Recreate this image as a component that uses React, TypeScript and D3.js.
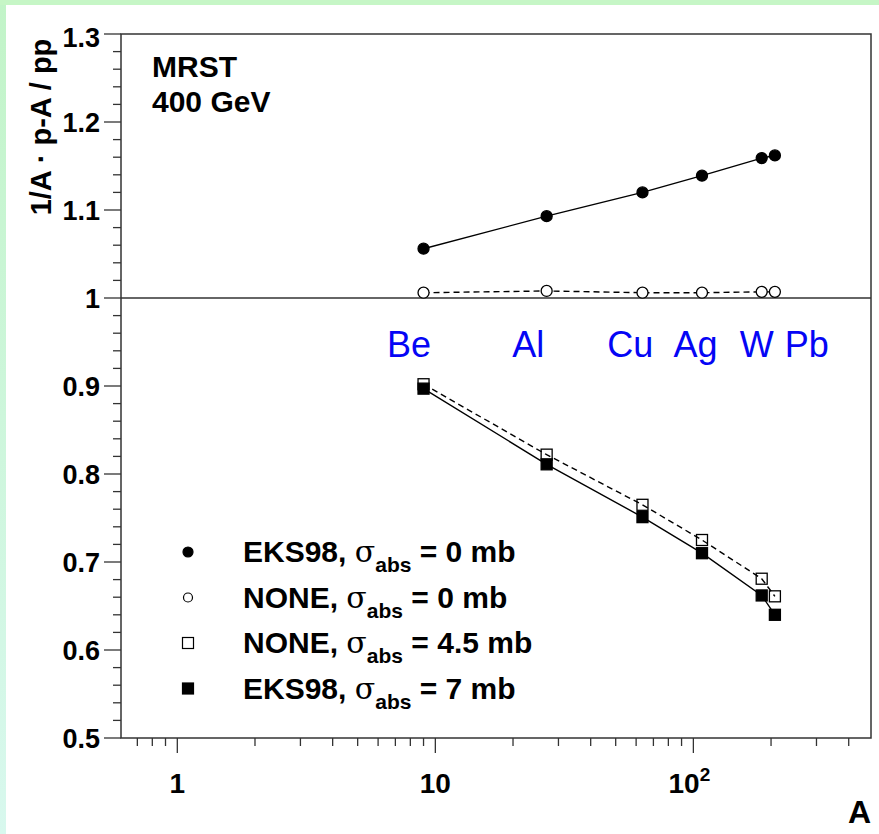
import React, { useEffect, useRef } from "react";
import * as d3 from "d3";

const elements = ["Be", "Al", "Cu", "Ag", "W", "Pb"];
const massNumbers = [9, 27, 63.5, 108, 184, 207];
// where the element names sit along A (label centres)
const elementLabelA = [7.9, 22.9, 57, 102, 176, 275];

const eks98Zero = [1.056, 1.093, 1.12, 1.139, 1.159, 1.162];
const noneZero = [1.006, 1.008, 1.006, 1.006, 1.007, 1.007];
const noneFourHalf = [0.902, 0.822, 0.765, 0.725, 0.681, 0.661];
const eks98Seven = [0.897, 0.811, 0.751, 0.71, 0.662, 0.64];

const yTicks = [0.5, 0.6, 0.7, 0.8, 0.9, 1, 1.1, 1.2, 1.3];
const xTicks = [1, 10, 100];

const legendRows = [
  { name: "EKS98", sigma: "0", shape: "dot", fill: true },
  { name: "NONE", sigma: "0", shape: "dot", fill: false },
  { name: "NONE", sigma: "4.5", shape: "square", fill: false },
  { name: "EKS98", sigma: "7", shape: "square", fill: true },
];

const FONT = "'Liberation Sans', Arial, Helvetica, sans-serif";

const RatioChart = () => {
  const svgRef = useRef<SVGSVGElement>(null);

  useEffect(() => {
    document.body.style.margin = "0";
    const W = 879;
    const H = 834;
    const margin = { top: 34, right: 8, bottom: 96, left: 121 };
    const width = W - margin.left - margin.right;
    const height = H - margin.top - margin.bottom;

    const root = d3.select(svgRef.current).attr("width", W).attr("height", H);
    root.selectAll("*").remove();

    // frame background
    const defs = root.append("defs");
    const grad = defs
      .append("linearGradient")
      .attr("id", "side")
      .attr("x1", 0)
      .attr("y1", 0)
      .attr("x2", 0)
      .attr("y2", 1);
    grad.append("stop").attr("offset", "0%").attr("stop-color", "#c2f4c8");
    grad.append("stop").attr("offset", "100%").attr("stop-color", "#d8f8ee");
    root.append("rect").attr("width", W).attr("height", H).attr("fill", "#ffffff");
    root.append("rect").attr("width", 6).attr("height", H).attr("fill", "url(#side)");
    root.append("rect").attr("width", W).attr("height", 5).attr("fill", "#c6f6c6");

    const svg = root
      .append("g")
      .attr("transform", `translate(${margin.left},${margin.top})`);

    const x = d3.scaleLog().domain([0.605, 488]).range([0, width]);
    const y = d3.scaleLinear().domain([0.5, 1.3]).range([height, 0]);

    // frame
    svg
      .append("rect")
      .attr("width", width)
      .attr("height", height)
      .attr("fill", "none")
      .attr("stroke", "#333")
      .attr("stroke-width", 1.5);

    // y = 1 line
    svg
      .append("line")
      .attr("x1", 0)
      .attr("x2", width)
      .attr("y1", y(1))
      .attr("y2", y(1))
      .attr("stroke", "#333")
      .attr("stroke-width", 1.5);

    // y ticks
    const yMinor = d3.range(0.52, 1.3, 0.02).filter((v) => Math.abs(v * 10 - Math.round(v * 10)) > 1e-6);
    svg
      .selectAll(".ymin")
      .data(yMinor)
      .join("line")
      .attr("x1", -8)
      .attr("x2", 0)
      .attr("y1", (d) => y(d))
      .attr("y2", (d) => y(d))
      .attr("stroke", "#333")
      .attr("stroke-width", 1.3);
    svg
      .selectAll(".ymaj")
      .data(yTicks)
      .join("line")
      .attr("x1", -17)
      .attr("x2", 0)
      .attr("y1", (d) => y(d))
      .attr("y2", (d) => y(d))
      .attr("stroke", "#333")
      .attr("stroke-width", 1.3);
    svg
      .selectAll(".ylab")
      .data(yTicks)
      .join("text")
      .attr("x", -21)
      .attr("y", (d) => y(d) + (d === 1.3 ? 13 : 10))
      .attr("text-anchor", "end")
      .attr("font-family", FONT)
      .attr("font-weight", "bold")
      .attr("font-size", 27)
      .text((d) => d3.format("")(d));

    // x ticks
    const xMinor: number[] = [];
    [0.1, 1, 10, 100].forEach((dec) => {
      for (let k = 2; k <= 9; k++) xMinor.push(dec * k);
    });
    const xDom = x.domain();
    const minorIn = xMinor.filter((v) => v >= xDom[0] && v <= xDom[1] && !xTicks.includes(v));
    svg
      .selectAll(".xmin")
      .data(minorIn)
      .join("line")
      .attr("x1", (d) => x(d))
      .attr("x2", (d) => x(d))
      .attr("y1", height)
      .attr("y2", height + 8)
      .attr("stroke", "#333")
      .attr("stroke-width", 1.3);
    svg
      .selectAll(".xmaj")
      .data(xTicks)
      .join("line")
      .attr("x1", (d) => x(d))
      .attr("x2", (d) => x(d))
      .attr("y1", height)
      .attr("y2", height + 15)
      .attr("stroke", "#333")
      .attr("stroke-width", 1.3);

    const xl = svg
      .selectAll(".xlab")
      .data(xTicks)
      .join("text")
      .attr("x", (d) => x(d) - (d === 100 ? 4 : 0))
      .attr("y", height + 55)
      .attr("text-anchor", "middle")
      .attr("font-family", FONT)
      .attr("font-weight", "bold")
      .attr("font-size", 28);
    xl.each(function (d) {
      const t = d3.select(this);
      if (d === 100) {
        t.append("tspan").text("10");
        t.append("tspan").attr("font-size", 19).attr("dy", -12).text("2");
      } else {
        t.text(String(d));
      }
    });

    svg
      .append("text")
      .attr("x", width)
      .attr("y", height + 85)
      .attr("text-anchor", "end")
      .attr("font-family", FONT)
      .attr("font-weight", "bold")
      .attr("font-size", 32)
      .text("A");

    // y axis title
    svg
      .append("text")
      .attr("transform", `translate(${51 - margin.left},${127 - margin.top}) rotate(-90)`)
      .attr("text-anchor", "middle")
      .attr("font-family", FONT)
      .attr("font-weight", "bold")
      .attr("font-size", 29)
      .text("1/A \u00B7 p-A / pp");

    // MRST header
    svg
      .append("text")
      .attr("x", 152 - margin.left)
      .attr("y", 77 - margin.top)
      .attr("font-family", FONT)
      .attr("font-weight", "bold")
      .attr("font-size", 30)
      .text("MRST");
    svg
      .append("text")
      .attr("x", 152 - margin.left)
      .attr("y", 112 - margin.top)
      .attr("font-family", FONT)
      .attr("font-weight", "bold")
      .attr("font-size", 30)
      .text("400 GeV");

    // element names
    svg
      .selectAll(".elem")
      .data(elements)
      .join("text")
      .attr("x", (d, i) => x(elementLabelA[i]))
      .attr("y", 357 - margin.top)
      .attr("text-anchor", "middle")
      .attr("font-family", FONT)
      .attr("font-size", 36)
      .attr("fill", "#0505f5")
      .text((d) => d);

    const pts = (vals: number[]) => vals.map((v, i) => [massNumbers[i], v] as [number, number]);
    const line = d3
      .line<[number, number]>()
      .x((d) => x(d[0]))
      .y((d) => y(d[1]));

    const series = [
      { vals: eks98Zero, dash: null, shape: "dot", fill: true },
      { vals: noneZero, dash: "6,4", shape: "dot", fill: false },
      { vals: noneFourHalf, dash: "6,4", shape: "square", fill: false },
      { vals: eks98Seven, dash: null, shape: "square", fill: true },
    ];

    series.forEach((s) => {
      svg
        .append("path")
        .datum(pts(s.vals))
        .attr("fill", "none")
        .attr("stroke", "#000")
        .attr("stroke-width", 1.4)
        .attr("stroke-dasharray", s.dash)
        .attr("d", line);
    });

    series.forEach((s) => {
      const g = svg.append("g");
      if (s.shape === "dot") {
        g.selectAll("circle")
          .data(pts(s.vals))
          .join("circle")
          .attr("cx", (d) => x(d[0]))
          .attr("cy", (d) => y(d[1]))
          .attr("r", 5.5)
          .attr("fill", s.fill ? "#000" : "#fff")
          .attr("stroke", "#000")
          .attr("stroke-width", 1.3);
      } else {
        g.selectAll("rect")
          .data(pts(s.vals))
          .join("rect")
          .attr("x", (d) => x(d[0]) - 5.5)
          .attr("y", (d) => y(d[1]) - 5.5)
          .attr("width", 11)
          .attr("height", 11)
          .attr("fill", s.fill ? "#000" : "#fff")
          .attr("fill-opacity", s.fill ? 1 : 0)
          .attr("stroke", "#000")
          .attr("stroke-width", 1.3);
      }
    });

    // legend
    const lg = svg.append("g").attr("transform", `translate(${188 - margin.left},${552 - margin.top})`);
    legendRows.forEach((r, i) => {
      const row = lg.append("g").attr("transform", `translate(0,${i * 45.5})`);
      if (r.shape === "dot") {
        row
          .append("circle")
          .attr("r", r.fill ? 5 : 4.5)
          .attr("fill", r.fill ? "#000" : "#fff")
          .attr("stroke", "#000")
          .attr("stroke-width", 1.2);
      } else {
        row
          .append("rect")
          .attr("x", -5.5)
          .attr("y", -5.5)
          .attr("width", 11)
          .attr("height", 11)
          .attr("fill", r.fill ? "#000" : "#fff")
          .attr("stroke", "#000")
          .attr("stroke-width", 1.2);
      }
      const t = row
        .append("text")
        .attr("x", 55)
        .attr("y", 10)
        .attr("font-family", FONT)
        .attr("font-weight", "bold")
        .attr("font-size", 30);
      t.append("tspan").text(`${r.name}, `);
      t.append("tspan").attr("font-weight", "normal").attr("font-family", "'DejaVu Serif', serif").text("\u03C3");
      t.append("tspan").attr("font-size", 21).attr("dy", 10).text("abs");
      t.append("tspan").attr("dy", -10).text(` = ${r.sigma} mb`);
    });
  }, []);

  return <svg ref={svgRef} style={{ display: "block" }}></svg>;
};

export default function App() {
  return <RatioChart />;
}
